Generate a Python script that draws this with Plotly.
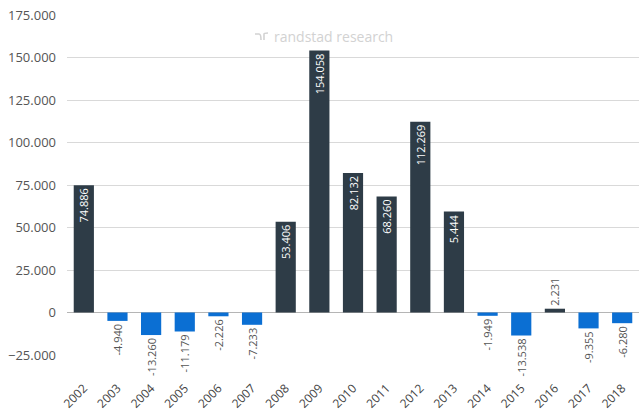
import plotly.graph_objects as go

years = ["2002", "2003", "2004", "2005", "2006", "2007", "2008", "2009", "2010",
         "2011", "2012", "2013", "2014", "2015", "2016", "2017", "2018"]
values = [74886, -4940, -13260, -11179, -2226, -7233, 53406, 154058, 82132,
          68260, 112269, 59444, -1949, -13538, 2231, -9355, -6280]
labels = ["74.886", "-4.940", "-13.260", "-11.179", "-2.226", "-7.233", "53.406",
          "154.058", "82.132", "68.260", "112.269", "5.444", "-1.949", "-13.538",
          "2.231", "-9.355", "-6.280"]
y_ticks = [-25000, 0, 25000, 50000, 75000, 100000, 125000, 150000, 175000]

DARK = "#2e3c47"
BLUE = "#0b6fd3"

colors = [DARK if v > 0 else BLUE for v in values]
positions = ["inside" if v > 10000 else "outside" for v in values]
text_colors = ["white" if v > 10000 else "#555555" for v in values]

fig = go.Figure(go.Bar(
    x=years, y=values, text=labels,
    marker=dict(color=colors, line=dict(width=0)),
    textposition=positions,
    insidetextanchor="end",
    textangle=-90,
    textfont=dict(family="Open Sans", size=11, color=text_colors),
    outsidetextfont=dict(family="Open Sans", size=11, color="#555555"),
    insidetextfont=dict(family="Open Sans", size=11, color="white"),
    cliponaxis=False,
    constraintext="none",
    hoverinfo="skip",
))

fig.update_layout(
    width=640, height=412,
    margin=dict(l=67, r=1, t=15, b=57),
    paper_bgcolor="white", plot_bgcolor="white",
    bargap=0.4,
    showlegend=False,
    separators=",.",
    font=dict(family="Open Sans", color="#555555"),
    xaxis=dict(
        type="category", tickangle=-45, automargin=False,
        tickfont=dict(family="Open Sans", size=12, color="#444444"),
        showgrid=False, showline=False, zeroline=False,
        ticks="", ticklabelstandoff=23,
    ),
    yaxis=dict(
        range=[-25000, 175000], tickvals=y_ticks, tickformat=",.0f",
        automargin=False,
        tickfont=dict(family="Open Sans", size=13, color="#555555"),
        showgrid=True, gridcolor="#d9d9d9", gridwidth=1,
        zeroline=True, zerolinecolor="#b5b5b5", zerolinewidth=1,
        showline=False, ticks="", ticklabelstandoff=10,
    ),
    annotations=[dict(
        text="randstad research", xref="paper", yref="paper",
        x=(333 - 67) / 572, y=(355 - 36) / 340, xanchor="center", yanchor="middle",
        showarrow=False, font=dict(family="Open Sans", size=14, color="#d2d2d2"),
    )],
    shapes=[dict(
        type="path", xref="paper", yref="paper",
        path="M {a},{b} L {c},{b} Q {d},{b} {d},{e} M {f},{e} L {f},{b} Q {f},{g} {h},{g}".format(
            a=(255 - 67) / 572, b=(355 - 34) / 340, c=(259 - 67) / 572, d=(261 - 67) / 572,
            e=(355 - 40) / 340, f=(264 - 67) / 572, g=(355 - 33) / 340, h=(268 - 67) / 572),
        line=dict(color="#d2d2d2", width=1.6),
    )],
)

fig.write_html(
    "out.html",
    config={"displayModeBar": False},
    post_script="document.body.style.margin='0';document.body.style.overflow='hidden';",
)
